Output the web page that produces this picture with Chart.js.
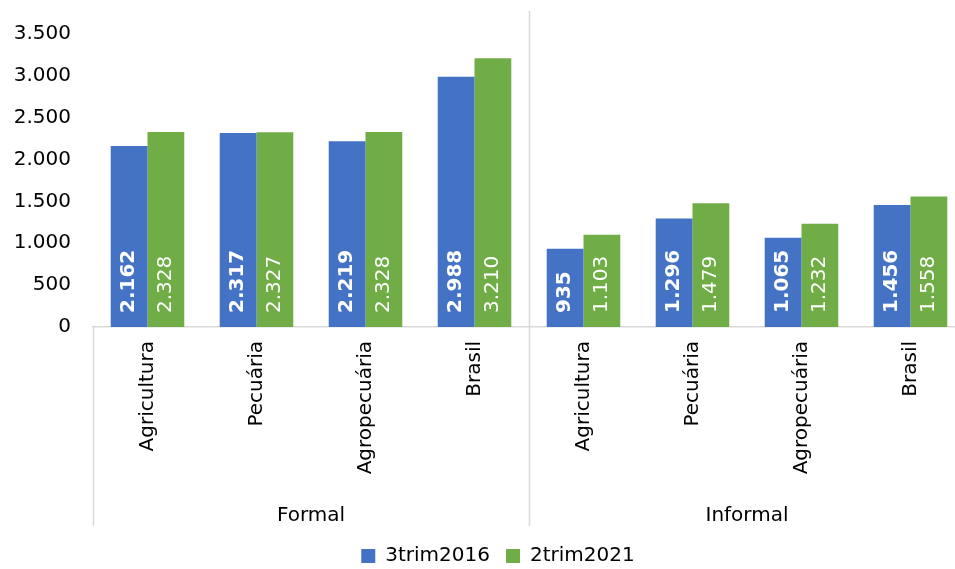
<!DOCTYPE html>
<html lang="pt-BR">
<head>
<meta charset="utf-8">
<title>Rendimento médio – Formal e Informal</title>
<script src="https://cdn.jsdelivr.net/npm/chart.js@4/dist/chart.umd.min.js"></script>
<style>
  html, body { margin: 0; padding: 0; background: #ffffff; overflow: hidden; }
  canvas { display: block; }
</style>
</head>
<body>
<canvas id="chart" width="1000" height="576"></canvas>
<script>
// Categories on the first axis level, grouped on the second level
const categories = ['Agricultura', 'Pecuária', 'Agropecuária', 'Brasil',
                    'Agricultura', 'Pecuária', 'Agropecuária', 'Brasil'];
const groupNames = ['Formal', 'Informal'];
const groupSizes = [4, 4];

// Series
const seriesNames = ['3trim2016', '2trim2021'];
const values2016 = [2162, 2317, 2219, 2988, 935, 1296, 1065, 1456];
const values2021 = [2328, 2327, 2328, 3210, 1103, 1479, 1232, 1558];

// Value axis
const yTicks = [0, 500, 1000, 1500, 2000, 2500, 3000, 3500];

const FONT = '"DejaVu Sans", "Liberation Sans", Arial, sans-serif';
const BLUE = '#4472C4';
const GREEN = '#70AD47';
const LINE = '#d9d9d9';

// Brazilian thousands separator
const fmt = v => String(v).replace(/\B(?=(\d{3})+(?!\d))/g, '.');

// Value labels written inside the bars, reading upwards from the base
const barLabels = {
  id: 'barLabels',
  afterDatasetsDraw(chart) {
    const ctx = chart.ctx;
    chart.data.datasets.forEach((ds, di) => {
      const meta = chart.getDatasetMeta(di);
      meta.data.forEach((bar, i) => {
        ctx.save();
        ctx.translate(bar.x, bar.base - 14);
        ctx.rotate(-Math.PI / 2);
        ctx.fillStyle = '#ffffff';
        ctx.font = (di === 0 ? 'bold ' : '') + '20px ' + FONT;
        ctx.textAlign = 'left';
        ctx.textBaseline = 'middle';
        ctx.fillText(fmt(ds.data[i]), 0, 0);
        ctx.restore();
      });
    });
  }
};

// Second axis level: group dividers and group names
const groupAxis = {
  id: 'groupAxis',
  afterDraw(chart) {
    const ctx = chart.ctx;
    const x = chart.scales.x;
    const area = chart.chartArea;
    const step = x.getPixelForValue(1) - x.getPixelForValue(0);
    const edge = i => x.getPixelForValue(i) - step / 2;
    const lineBottom = area.bottom + 199;

    ctx.save();
    ctx.strokeStyle = LINE;
    ctx.lineWidth = 1.5;
    let start = 0;
    const bounds = [0];
    groupSizes.forEach(n => { start += n; bounds.push(start); });
    bounds.forEach((b, k) => {
      const px = Math.round(edge(b)) + 0.5;
      const inner = k > 0 && k < bounds.length - 1;
      ctx.beginPath();
      ctx.moveTo(px, inner ? area.top - 23 : area.bottom);
      ctx.lineTo(px, lineBottom);
      ctx.stroke();
    });

    ctx.fillStyle = '#000000';
    ctx.font = '20px ' + FONT;
    ctx.textAlign = 'center';
    ctx.textBaseline = 'alphabetic';
    groupNames.forEach((name, k) => {
      const mid = (edge(bounds[k]) + edge(bounds[k + 1])) / 2;
      ctx.fillText(name, mid, area.bottom + 194);
    });
    ctx.restore();
  }
};

new Chart(document.getElementById('chart'), {
  type: 'bar',
  data: {
    labels: categories,
    datasets: [
      { label: seriesNames[0], data: values2016, backgroundColor: BLUE },
      { label: seriesNames[1], data: values2021, backgroundColor: GREEN }
    ]
  },
  options: {
    responsive: false,
    animation: false,
    devicePixelRatio: 1,
    categoryPercentage: 0.675,
    barPercentage: 1,
    layout: { padding: { left: 31, right: 35, top: 33, bottom: 0 } },
    plugins: {
      tooltip: { enabled: false },
      legend: {
        position: 'bottom',
        labels: {
          boxWidth: 14,
          boxHeight: 14,
          padding: 16,
          color: '#000000',
          font: { family: FONT, size: 20 }
        }
      }
    },
    scales: {
      x: {
        grid: { display: false, drawTicks: false },
        border: { display: true, color: LINE, width: 1.5 },
        ticks: {
          autoSkip: false,
          minRotation: 90,
          maxRotation: 90,
          padding: 14,
          color: '#000000',
          font: { family: FONT, size: 20 }
        },
        afterFit(scale) { scale.height = 203; }
      },
      y: {
        min: yTicks[0],
        max: yTicks[yTicks.length - 1],
        grid: { display: false, drawTicks: false },
        border: { display: false },
        afterBuildTicks(scale) { scale.ticks = yTicks.map(v => ({ value: v })); },
        ticks: {
          padding: 22,
          color: '#000000',
          font: { family: FONT, size: 20 },
          callback: v => fmt(v)
        },
        afterFit(scale) {
          scale.width = 62;
          // tick labels may extend past the narrow axis box into the left margin
          scale._computeLabelArea = () => undefined;
        }
      }
    }
  },
  plugins: [barLabels, groupAxis]
});
</script>
</body>
</html>
